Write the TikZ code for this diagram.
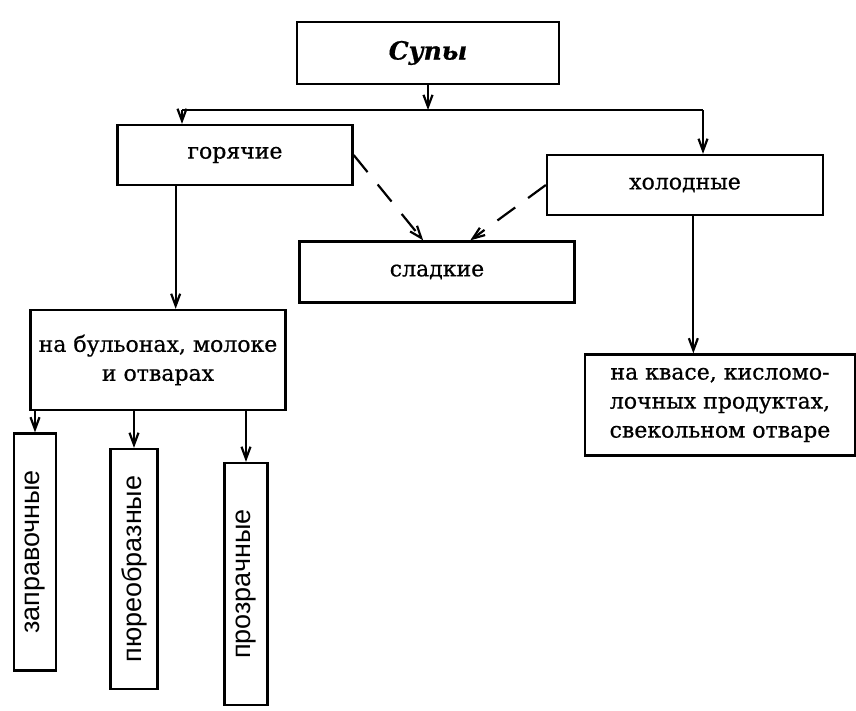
\documentclass[tikz,border=0pt]{standalone}
\usepackage{fontspec}
\setmainfont{DejaVu Serif}[FakeBold=0.7]
\newfontfamily\vertfont{Liberation Sans}
\usetikzlibrary{arrows.meta,calc}
\begin{document}
\begin{tikzpicture}[x=1pt, y=-1pt,
  box/.style={draw=black, line width=2.3pt, inner sep=4pt, align=center, font=\fontsize{22}{29}\selectfont},
  vbox/.style={box, rotate=90, font=\vertfont\fontsize{27}{32}\selectfont},
  arr/.style={line width=2.2pt, -{Straight Barb[length=12pt,width=9pt]}},
  dasharr/.style={arr, dash pattern=on 22pt off 16pt}]
\useasboundingbox (0,0) rectangle (856,710);
\node [box, minimum width=262pt, minimum height=62pt, font=\fontsize{25}{30}\selectfont\bfseries\itshape] (soups) at (428,53) {Супы};
\node [box, minimum width=235pt, minimum height=60pt] (hot) at (235,155) {горячие};
\node [box, minimum width=276pt, minimum height=60pt] (cold) at (685,185) {холодные};
\node [box, minimum width=275pt, minimum height=61pt] (sweet) at (437,272) {сладкие};
\node [box, minimum width=255pt, minimum height=100pt] (broth) at (158,360) {на бульонах, молоке\\и отварах};
\node [box, minimum width=270pt, minimum height=101pt] (kvas) at (720,405) {на квасе, кисломо-\\лочных продуктах,\\свекольном отваре};
\node [vbox, minimum width=237pt, minimum height=42pt] (fill) at (35,552) {заправочные};
\node [vbox, minimum width=240pt, minimum height=47pt] (puree) at (134,569) {пюреобразные};
\node [vbox, minimum width=242pt, minimum height=43pt] (clear) at (246,584) {прозрачные};

\coordinate (barL) at (182,110);
\coordinate (barR) at (703,110);
\draw [line width=2.2pt] (barL) -- (barR);
\draw [arr] (soups.south) -- (soups.south |- barL);
\draw [arr] (barL) -- (barL |- hot.north);
\draw [arr] (barR) -- (barR |- cold.north);

\draw [arr] ($(hot.south west)!0.25!(hot.south east)$) coordinate (hotout) -- (hotout |- broth.north);
\draw [arr] ($(cold.south west)!0.53!(cold.south east)$) coordinate (coldout) -- (coldout |- kvas.north);

\draw [dasharr] (hot.east) -- ($(sweet.north west)!0.45!(sweet.north east)$);
\draw [dasharr] (cold.west) -- ($(sweet.north west)!0.62!(sweet.north east)$);

\draw [arr] (broth.south -| fill.east) -- (fill.east);
\draw [arr] (broth.south -| puree.east) -- (puree.east);
\draw [arr] (broth.south -| clear.east) -- (clear.east);
\end{tikzpicture}
\end{document}
